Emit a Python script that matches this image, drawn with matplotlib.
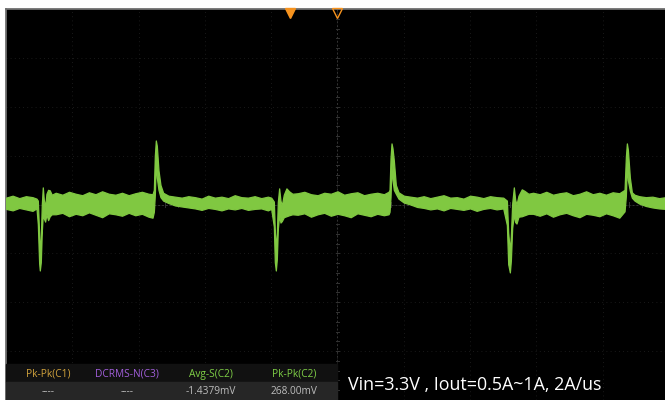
import numpy as np
import matplotlib
matplotlib.use("Agg")
import matplotlib.pyplot as plt
from matplotlib.patches import Rectangle

# ==========================================
# 数据：示波器 C2 波形包络 (时间: div, 电压: mV, 100mV/div)
# ==========================================
t_div = [
    0.00, 0.10, 0.20, 0.30, 0.40, 0.46,
    0.48, 0.50, 0.51, 0.525, 0.54, 0.555, 0.57, 0.59, 0.61, 0.635, 0.66, 0.69,
    0.75, 0.85, 0.95, 1.05, 1.15, 1.25, 1.35, 1.45, 1.55, 1.65, 1.75, 1.85, 1.95, 2.05, 2.15, 2.21,
    2.23, 2.245, 2.26, 2.275, 2.30, 2.33, 2.37, 2.45, 2.55, 2.65, 2.75,
    2.85, 2.95, 3.05, 3.15, 3.25, 3.35, 3.45, 3.55, 3.65, 3.75, 3.85, 3.95, 4.00,
    4.04, 4.055, 4.07, 4.085, 4.10, 4.12, 4.14, 4.16, 4.19, 4.23, 4.27, 4.32,
    4.40, 4.50, 4.60, 4.70, 4.80, 4.90, 5.00, 5.10, 5.20, 5.30, 5.40, 5.50, 5.60, 5.70, 5.77,
    5.785, 5.80, 5.815, 5.83, 5.85, 5.88, 5.92, 6.00, 6.10, 6.20, 6.30,
    6.40, 6.50, 6.60, 6.70, 6.80, 6.90, 7.00, 7.10, 7.20, 7.30, 7.40, 7.50,
    7.555, 7.575, 7.60, 7.615, 7.635, 7.66, 7.68, 7.70, 7.73, 7.78, 7.82, 7.88,
    7.95, 8.05, 8.15, 8.25, 8.35, 8.45, 8.55, 8.65, 8.75, 8.85, 8.95, 9.05, 9.15, 9.25,
    9.33, 9.35, 9.365, 9.38, 9.41, 9.44, 9.48, 9.55, 9.65, 9.75, 9.85, 9.95,
]
upper_mv = [
    14, 18, 13, 17, 15, 12,
    8, -60, -95, -70, 0, 35, 10, -5, 22, 30, 29, 20,
    24, 20, 26, 22, 19, 25, 21, 27, 22, 20, 24, 19, 23, 26, 22, 21,
    30, 100, 131, 120, 70, 40, 24, 18, 16, 14, 17,
    15, 12, 18, 14, 16, 13, 19, 15, 14, 17, 13, 16, 14,
    6, -55, -90, -60, 5, 33, 8, -2, 20, 33, 27, 22,
    23, 26, 21, 19, 24, 22, 27, 20, 23, 25, 19, 22, 24, 21, 26,
    30, 95, 125, 115, 90, 40, 25, 18, 16, 14, 17,
    13, 16, 19, 14, 15, 12, 18, 16, 13, 17, 15, 14,
    8, -58, -95, -65, 2, 35, 10, 0, 18, 31, 28, 22,
    24, 21, 26, 20, 23, 25, 19, 22, 27, 21, 24, 20, 25, 23,
    30, 98, 125, 112, 55, 25, 20, 17, 15, 16, 13, 15,
]
lower_mv = [
    -9, -12, -7, -10, -13, -8,
    -40, -120, -135, -118, -55, -20, -28, -35, -20, -32, -24, -20,
    -20, -17, -24, -19, -22, -16, -21, -26, -18, -20, -23, -17, -22, -19, -25, -27,
    -15, 20, 90, 55, 30, 15, 8, 3, -2, -4, -6,
    -8, -11, -7, -9, -12, -8, -10, -7, -11, -9, -8, -12, -9,
    -45, -118, -135, -112, -50, -22, -37, -34, -26, -24, -22, -20,
    -21, -18, -25, -20, -17, -23, -19, -22, -26, -18, -21, -24, -19, -22, -20,
    -15, 15, 80, 50, 30, 22, 12, 4, 0, -5, -7,
    -10, -8, -12, -7, -9, -11, -8, -13, -9, -7, -10, -8,
    -42, -122, -139, -115, -48, -20, -36, -39, -25, -24, -22, -19,
    -19, -23, -18, -25, -20, -17, -22, -26, -19, -21, -24, -18, -22, -27,
    -14, 18, 85, 50, 28, 14, 8, 2, -3, -6, -8, -9,
]

meas_names = ["Pk-Pk(C1)", "DCRMS-N(C3)", "Avg-S(C2)", "Pk-Pk(C2)"]
meas_values = ["----", "----", "-1.4379mV", "268.00mV"]
meas_colors = ["#d2a33c", "#a25fdc", "#7fcf46", "#7fcf46"]
caption = "Vin=3.3V , Iout=0.5A~1A, 2A/us"

trace_color = "#80c841"
orange = "#f7931e"

W, H = 665, 400
fig = plt.figure(figsize=(W / 100, H / 100), dpi=100, facecolor="white")
# 屏幕区域：左边 6px 起，顶部 9px 起
ax = fig.add_axes([6 / W, 0, 659 / W, 391 / H])
ax.set_facecolor("black")
ax.set_xlim(0, 9.94)
ax.set_ylim(-400, 400)

# 网格 (10 x 8 div)，很淡的点状线
grid_c = "#222222"
for x in range(1, 10):
    ax.axvline(x, color=grid_c, lw=0.6, ls=(0, (1, 4)), zorder=1)
for y in range(-300, 400, 100):
    ax.axhline(y, color=grid_c, lw=0.6, ls=(0, (1, 4)), zorder=1)
# 中心十字线和小刻度
center_c = "#333333"
ax.axvline(5, color=center_c, lw=0.7, ls=(0, (2, 2)), zorder=1)
ax.axhline(0, color=center_c, lw=0.7, ls=(0, (2, 2)), zorder=1)
for y in np.arange(-400, 401, 20):
    ax.plot([4.97, 5.03], [y, y], color=center_c, lw=0.7, zorder=1)
for x in np.arange(0, 10.01, 0.2):
    ax.plot([x, x], [-6, 6], color=center_c, lw=0.7, zorder=1)

# 波形包络
ax.fill_between(t_div, lower_mv, upper_mv, color=trace_color, lw=0.9,
                edgecolor=trace_color, zorder=3)

ax.set_xticks([])
ax.set_yticks([])
for side in ["right", "bottom"]:
    ax.spines[side].set_visible(False)
for side in ["left", "top"]:
    ax.spines[side].set_color("#707070")
    ax.spines[side].set_linewidth(1.3)

# 触发标记
ax.plot([4.28], [392], marker="v", ms=7.5, color=orange, mec=orange,
        clip_on=False, zorder=5)
ax.plot([5.0], [392], marker="v", ms=7.5, mfc="none", mec=orange, mew=1.0,
        clip_on=False, zorder=5)

# 测量面板
fig.patches.append(Rectangle((6 / W, 18 / H), 331 / W, 18 / H,
                             transform=fig.transFigure, color="#111111", zorder=4))
fig.patches.append(Rectangle((6 / W, 0), 331 / W, 18 / H,
                             transform=fig.transFigure, color="#262626", zorder=4))
col_x = [48, 127, 211, 294]
for cx, name, val, c in zip(col_x, meas_names, meas_values, meas_colors):
    fig.text(cx / W, 1 - 374 / H, name, color=c, fontsize=7.3, ha="center",
             va="center", family="Open Sans", zorder=6)
    fig.text(cx / W, 1 - 392 / H, val, color="#bdbdbd", fontsize=7.3, ha="center",
             va="center", family="Open Sans", zorder=6)

fig.text(348 / W, 1 - 385 / H, caption, color="white", fontsize=12.9,
         ha="left", va="center", family="Open Sans", zorder=6)

fig.savefig("out.png", dpi=100, facecolor="white")
